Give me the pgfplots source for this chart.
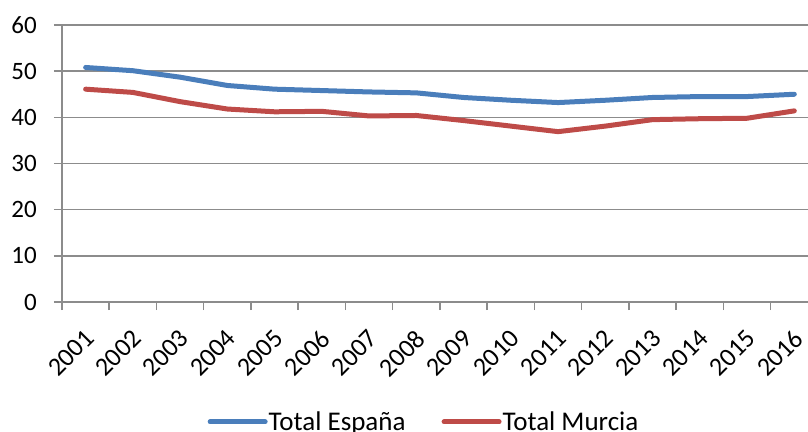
\documentclass[border=0pt]{standalone}
\usepackage{fontspec}
\setmainfont{Carlito}
\usepackage{pgfplots}
\pgfplotsset{compat=1.18}
\definecolor{espana}{HTML}{4A7EBB}
\definecolor{murcia}{HTML}{BE4B48}
\definecolor{gridgray}{HTML}{8C8C8C}
\newcommand{\chartfont}{\fontsize{25bp}{30bp}\selectfont}
\begin{document}
\begin{tikzpicture}
\begin{axis}[
    scale only axis,
    width=746bp, height=277bp,
    xmin=-0.5, xmax=15.29,
    ymin=0, ymax=60,
    axis x line*=bottom,
    axis y line*=left,
    axis line style={gridgray, line width=1.5bp, -},
    tick align=outside,
    major tick length=8bp,
    tick style={gridgray, line width=1.5bp},
    /pgf/number format/assume math mode=true,
    ytick={0,10,...,60},
    ymajorgrids,
    grid style={gridgray, line width=1.5bp},
    xtick={-0.5,0.5,...,14.5},
    xticklabels={},
    extra x ticks={0,...,15},
    extra x tick labels={2001,2002,2003,2004,2005,2006,2007,2008,2009,2010,2011,2012,2013,2014,2015,2016},
    extra x tick style={tick style={draw=none}, grid=none},
    x tick label style={yshift=-18bp, xshift=-2bp, rotate=45, anchor=north east, inner sep=0pt,
        font=\fontsize{26bp}{30bp}\selectfont},
    y tick label style={inner sep=0pt, xshift=-17bp, font=\chartfont},
    legend style={at={(0.4846,-0.433)}, anchor=center, draw=none, fill=none,
        legend columns=2, font=\fontsize{27bp}{32bp}\selectfont,
        nodes={inner sep=1bp},
        /tikz/every even column/.append style={column sep=35bp}},
    legend image code/.code={\draw[#1, line cap=round] (0bp,0bp) -- (55bp,0bp);},
    every axis plot/.append style={line width=5bp, line cap=round, line join=round},
]
\addplot[espana] coordinates {
    (0,50.8) (1,50.1) (2,48.7) (3,46.9) (4,46.1) (5,45.8) (6,45.5) (7,45.3)
    (8,44.3) (9,43.7) (10,43.2) (11,43.7) (12,44.3) (13,44.5) (14,44.5) (15,45.0)};
\addlegendentry{Total España}
\addplot[murcia] coordinates {
    (0,46.1) (1,45.4) (2,43.4) (3,41.8) (4,41.2) (5,41.3) (6,40.3) (7,40.4)
    (8,39.3) (9,38.1) (10,36.9) (11,38.1) (12,39.5) (13,39.7) (14,39.8) (15,41.4)};
\addlegendentry{Total Murcia}
\end{axis}
\pgfresetboundingbox
\path (-62bp,-130bp) rectangle (746bp,302bp);
\end{tikzpicture}
\end{document}
